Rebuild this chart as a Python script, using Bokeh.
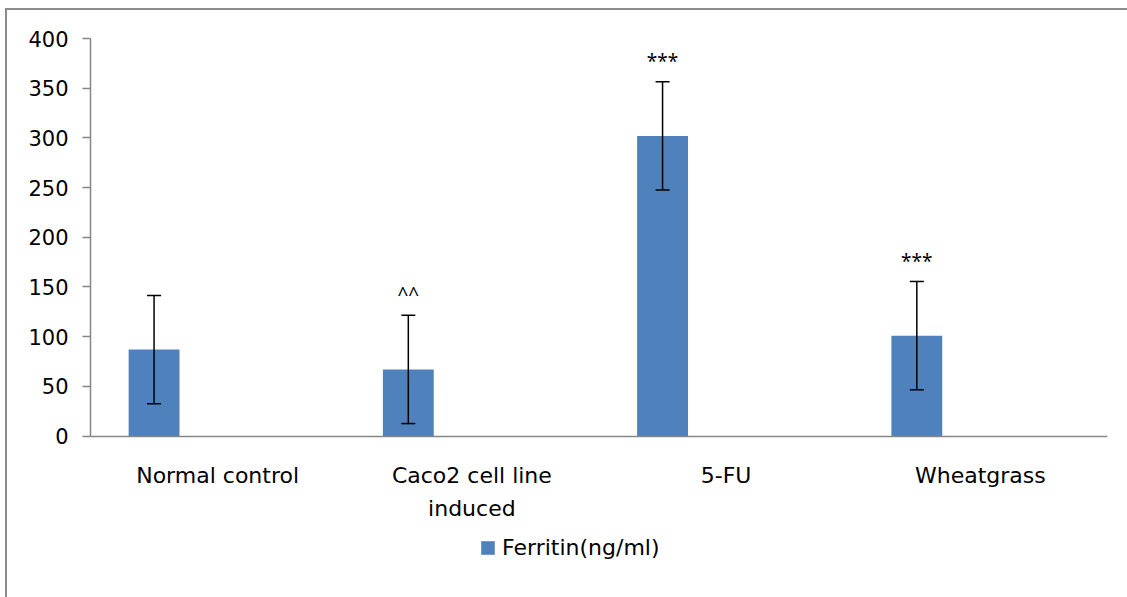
from bokeh.plotting import figure
from bokeh.models import (Range1d, FixedTicker, ColumnDataSource, Whisker, TeeHead,
                          Label, Legend, LegendItem)
from bokeh.embed import file_html
from bokeh.resources import INLINE

categories = ["Normal control", "Caco2 cell line induced", "5-FU", "Wheatgrass"]
tick_labels = ["Normal control", "Caco2 cell line\ninduced", "5-FU", "Wheatgrass"]
ferritin = [87, 67, 302, 101]
sd = [54.5, 54.5, 54.5, 54.5]
markers = ["", "^^", "***", "***"]
series_name = "Ferritin(ng/ml)"
y_ticks = [0, 50, 100, 150, 200, 250, 300, 350, 400]

FONT = "DejaVu Sans"
TXT = "#000000"
AXC = "#868686"
BAR = "#4F81BD"

W, H = 1127, 597
TOP, LEFT, RIGHT = 38, 90, 20
Y_MAX = 400
PX_PER_UNIT = 397.5 / Y_MAX
y_min = -(H - TOP) / PX_PER_UNIT + Y_MAX   # frame extends down to leave room for labels/legend

slot = list(range(len(categories)))
bar_x = [i + 0.25 for i in slot]
label_x = [i + 0.5 for i in slot]

src = ColumnDataSource(dict(
    x=bar_x, top=ferritin,
    upper=[v + e for v, e in zip(ferritin, sd)],
    lower=[v - e for v, e in zip(ferritin, sd)],
))

p = figure(width=W, height=H, output_backend="svg", toolbar_location=None,
           x_range=Range1d(0, 4), y_range=Range1d(y_min, Y_MAX),
           min_border_left=LEFT, min_border_right=RIGHT, min_border_top=TOP,
           min_border_bottom=0)
p.outline_line_color = None
p.background_fill_color = "white"
p.border_fill_color = None
p.styles = {"box-shadow": "inset 5px 8px 0 0 #ffffff, inset 7px 10px 0 0 #8c8c8c"}
p.xgrid.grid_line_color = None
p.ygrid.grid_line_color = None

r = p.vbar(x="x", top="top", width=0.2, bottom=0, source=src,
           fill_color=BAR, line_color=None)

w = Whisker(base="x", upper="upper", lower="lower", source=src,
            line_color="#000000", line_width=1.5, level="overlay",
            upper_head=TeeHead(size=14, line_color="#000000", line_width=1.5),
            lower_head=TeeHead(size=14, line_color="#000000", line_width=1.5))
p.add_layout(w)

for bx, v, e, m in zip(bar_x, ferritin, sd, markers):
    if m:
        p.add_layout(Label(x=bx, y=v + e + 21, text=m, text_align="center",
                           text_baseline="middle", text_font="Noto Sans",
                           text_font_size="19px", text_color=TXT))

# y axis
ya = p.yaxis[0]
ya.ticker = FixedTicker(ticks=y_ticks)
ya.bounds = (0, Y_MAX)
ya.minor_tick_line_color = None
ya.major_tick_in = 0
ya.major_tick_out = 8
ya.major_tick_line_color = AXC
ya.major_tick_line_width = 1.5
ya.axis_line_color = AXC
ya.axis_line_width = 1.5
ya.major_label_text_font = FONT
ya.major_label_text_font_size = "21px"
ya.major_label_text_color = TXT
ya.major_label_standoff = 14

# x axis, pinned at y = 0
xa = p.xaxis[0]
xa.fixed_location = 0
xa.ticker = FixedTicker(ticks=label_x)
xa.major_label_overrides = {lx: t for lx, t in zip(label_x, tick_labels)}
xa.minor_tick_line_color = None
xa.major_tick_line_color = None
xa.major_tick_in = 0
xa.major_tick_out = 0
xa.axis_line_color = AXC
xa.axis_line_width = 1.5
xa.major_label_text_font = FONT
xa.major_label_text_font_size = "22px"
xa.major_label_text_color = TXT
xa.major_label_text_line_height = 1.3
xa.major_label_standoff = 27

legend = Legend(items=[LegendItem(label=series_name, renderers=[r])],
                location=(389, 37), orientation="horizontal",
                glyph_width=17, glyph_height=17, label_standoff=6,
                padding=0, margin=0, border_line_color=None,
                background_fill_alpha=0,
                label_text_font=FONT, label_text_font_size="22px",
                label_text_color=TXT)
p.add_layout(legend, "center")

open("out.html", "w").write(file_html(p, INLINE))
